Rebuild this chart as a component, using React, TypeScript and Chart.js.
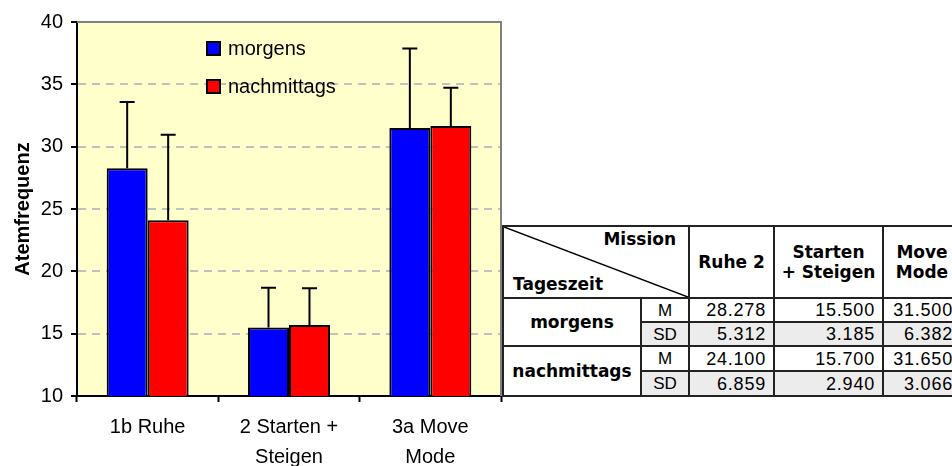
import React, { useEffect, useRef } from 'react';
import { Chart, registerables } from 'chart.js';

Chart.register(...registerables);

const categories: string[][] = [['1b Ruhe'], ['2 Starten +', 'Steigen'], ['3a Move', 'Mode']];
const seriesNames = ['morgens', 'nachmittags'];
const morgensMean = [28.278, 15.5, 31.5];
const morgensSD = [5.312, 3.185, 6.382];
const nachmittagsMean = [24.1, 15.7, 31.65];
const nachmittagsSD = [6.859, 2.94, 3.066];
const seriesColors = ['#0000FF', '#FF0000'];
const yMin = 10;
const yMax = 40;
const yStep = 5;
const axisTitle = 'Atemfrequenz';
const tableColumns: string[][] = [['Ruhe 2'], ['Starten', '+ Steigen'], ['Move', 'Mode']];
const tableCorner = { top: 'Mission', bottom: 'Tageszeit' };
const statLabels = ['M', 'SD'];

const FONT = "'Liberation Sans', Arial, sans-serif";
const means = [morgensMean, nachmittagsMean];
const sds = [morgensSD, nachmittagsSD];

const bgPlugin = {
  id: 'bgPlugin',
  beforeDraw(chart: any) {
    const { ctx, chartArea: a } = chart;
    ctx.save();
    ctx.fillStyle = '#FFFFCC';
    ctx.fillRect(a.left, a.top, a.right - a.left, a.bottom - a.top);
    ctx.restore();
  },
  beforeDatasetsDraw(chart: any) {
    const { ctx, chartArea: a } = chart;
    ctx.save();
    ctx.strokeStyle = '#808080';
    ctx.lineWidth = 2;
    ctx.beginPath();
    ctx.moveTo(a.left, a.top);
    ctx.lineTo(a.right, a.top);
    ctx.lineTo(a.right, a.bottom);
    ctx.stroke();
    ctx.restore();
  },
};

const errorBarPlugin = {
  id: 'errorBarPlugin',
  afterDatasetsDraw(chart: any) {
    const { ctx } = chart;
    const yScale = chart.scales.y;
    ctx.save();
    ctx.strokeStyle = '#000';
    ctx.lineWidth = 2;
    chart.data.datasets.forEach((ds: any, i: number) => {
      const meta = chart.getDatasetMeta(i);
      meta.data.forEach((bar: any, j: number) => {
        const top = yScale.getPixelForValue(ds.data[j] + sds[i][j]);
        ctx.beginPath();
        ctx.moveTo(bar.x, bar.y);
        ctx.lineTo(bar.x, top);
        ctx.moveTo(bar.x - 7.5, top);
        ctx.lineTo(bar.x + 7.5, top);
        ctx.stroke();
      });
    });
    ctx.restore();
  },
};

const legendPlugin = {
  id: 'legendPlugin',
  afterDraw(chart: any) {
    const { ctx, chartArea: a } = chart;
    ctx.save();
    ctx.font = `20px ${FONT}`;
    ctx.textBaseline = 'middle';
    ctx.textAlign = 'left';
    chart.data.datasets.forEach((ds: any, i: number) => {
      const x = a.left + 130;
      const y = a.top + 20 + i * 38;
      ctx.fillStyle = ds.backgroundColor;
      ctx.fillRect(x, y, 13, 13);
      ctx.strokeStyle = '#000';
      ctx.lineWidth = 2;
      ctx.strokeRect(x, y, 13, 13);
      ctx.fillStyle = '#000';
      ctx.fillText(ds.label, x + 21, y + 7);
    });
    ctx.restore();
  },
};

function ChartCanvas() {
  const ref = useRef<HTMLCanvasElement>(null);
  useEffect(() => {
    if (!ref.current) return;
    const chart = new Chart(ref.current, {
      type: 'bar',
      data: {
        labels: categories,
        datasets: seriesNames.map((name, i) => ({
          label: name,
          data: means[i],
          backgroundColor: seriesColors[i],
          borderColor: '#000',
          borderWidth: 2,
          borderSkipped: false,
          barPercentage: 1,
          categoryPercentage: 0.58,
        })),
      },
      options: {
        animation: false,
        responsive: false,
        maintainAspectRatio: false,
        layout: { padding: { left: 0, top: 22, right: 451, bottom: 0 } },
        plugins: { legend: { display: false }, tooltip: { enabled: false } },
        scales: {
          x: {
            ticks: {
              color: '#000',
              font: { family: FONT, size: 20, lineHeight: 1.5 },
              padding: 10,
              maxRotation: 0,
              autoSkip: false,
            },
            grid: {
              drawOnChartArea: false,
              drawTicks: true,
              tickLength: 6,
              tickColor: '#000',
              tickWidth: 2,
              offset: true,
            },
            border: { color: '#000', width: 2 },
            afterFit: (s: any) => {
              s.height = 70;
            },
          },
          y: {
            min: yMin,
            max: yMax,
            ticks: {
              stepSize: yStep,
              color: '#000',
              font: { family: FONT, size: 20 },
              padding: 8,
            },
            grid: {
              color: (c: any) =>
                c.tick && (c.tick.value === yMin || c.tick.value === yMax) ? 'rgba(0,0,0,0)' : '#c0c0c0',
              lineWidth: 2,
              tickColor: '#000',
              tickLength: 6,
              tickWidth: 2,
            },
            border: { display: true, color: '#000', width: 2, dash: [8, 6] },
            title: {
              display: true,
              text: axisTitle,
              color: '#000',
              font: { family: FONT, size: 20, weight: 'bold' },
              padding: { top: 11, bottom: 0 },
            },
            afterFit: (s: any) => {
              s.width = 77;
            },
          },
        },
      },
      plugins: [bgPlugin, errorBarPlugin, legendPlugin],
    } as any);
    return () => chart.destroy();
  }, []);
  return <canvas ref={ref} width={952} height={466} style={{ display: 'block', width: 952, height: 466 }} />;
}

const HFONT = "'DejaVu Sans', Verdana, sans-serif";

function DataTable() {
  const cell = (extra: React.CSSProperties): React.CSSProperties => ({
    background: '#fff',
    position: 'relative',
    overflow: 'hidden',
    ...extra,
  });
  const numStyle = (gray: boolean): React.CSSProperties =>
    cell({
      background: gray ? '#ececec' : '#fff',
      fontFamily: FONT,
      fontSize: 18,
      letterSpacing: 0.8,
      textAlign: 'right',
      paddingRight: 7,
      display: 'flex',
      alignItems: 'center',
      justifyContent: 'flex-end',
      lineHeight: 1,
    });
  const statStyle = (gray: boolean): React.CSSProperties =>
    cell({
      background: gray ? '#ececec' : '#fff',
      fontFamily: FONT,
      fontSize: 17,
      display: 'flex',
      alignItems: 'center',
      justifyContent: 'center',
      lineHeight: 1,
    });
  const rowStart = [2, 4];
  return (
    <div style={{ position: 'fixed', left: 502, top: 225, width: 450, height: 180, overflow: 'hidden' }}>
      <div
        style={{
          display: 'grid',
          gridTemplateColumns: '136px 46px 83px 107px 76px',
          gridTemplateRows: '70px 22px 22px 23px 23px',
          gap: 2,
          padding: 2,
          background: '#222',
          width: 'max-content',
        }}
      >
        <div style={cell({ gridColumn: '1 / 3', gridRow: '1 / 2', fontFamily: HFONT, fontWeight: 'bold', fontSize: 17 })}>
          <svg
            width="100%"
            height="100%"
            viewBox="0 0 100 100"
            preserveAspectRatio="none"
            style={{ position: 'absolute', left: 0, top: 0 }}
          >
            <line x1="0" y1="0" x2="100" y2="100" stroke="#000" strokeWidth="1.5" vectorEffect="non-scaling-stroke" />
          </svg>
          <span style={{ position: 'absolute', right: 12, top: 2 }}>{tableCorner.top}</span>
          <span style={{ position: 'absolute', left: 9, bottom: 3 }}>{tableCorner.bottom}</span>
        </div>
        {tableColumns.map((lines, c) => (
          <div
            key={'h' + c}
            style={cell({
              gridColumn: `${c + 3} / ${c + 4}`,
              gridRow: '1 / 2',
              fontFamily: HFONT,
              fontWeight: 'bold',
              fontSize: 17,
              display: 'flex',
              flexDirection: 'column',
              alignItems: 'center',
              justifyContent: 'center',
              lineHeight: '20px',
              textAlign: 'center',
            })}
          >
            {lines.map((l, k) => (
              <div key={k} style={{ whiteSpace: 'nowrap' }}>{l}</div>
            ))}
          </div>
        ))}
        {seriesNames.map((name, s) => (
          <React.Fragment key={'s' + s}>
            <div
              style={cell({
                gridColumn: '1 / 2',
                gridRow: `${rowStart[s]} / ${rowStart[s] + 2}`,
                fontFamily: HFONT,
                fontWeight: 'bold',
                fontSize: 17,
                display: 'flex',
                alignItems: 'center',
                justifyContent: 'center',
              })}
            >
              {name}
            </div>
            {statLabels.map((st, k) => (
              <React.Fragment key={st}>
                <div style={{ ...statStyle(k === 1), gridColumn: '2 / 3', gridRow: `${rowStart[s] + k} / ${rowStart[s] + k + 1}` }}>
                  {st}
                </div>
                {(k === 0 ? means[s] : sds[s]).map((v, c) => (
                  <div
                    key={c}
                    style={{ ...numStyle(k === 1), gridColumn: `${c + 3} / ${c + 4}`, gridRow: `${rowStart[s] + k} / ${rowStart[s] + k + 1}` }}
                  >
                    {v.toFixed(3)}
                  </div>
                ))}
              </React.Fragment>
            ))}
          </React.Fragment>
        ))}
      </div>
    </div>
  );
}

export default function App() {
  return (
    <div style={{ position: 'fixed', left: 0, top: 0, width: 952, height: 466, background: '#fff' }}>
      <ChartCanvas />
      <DataTable />
    </div>
  );
}
